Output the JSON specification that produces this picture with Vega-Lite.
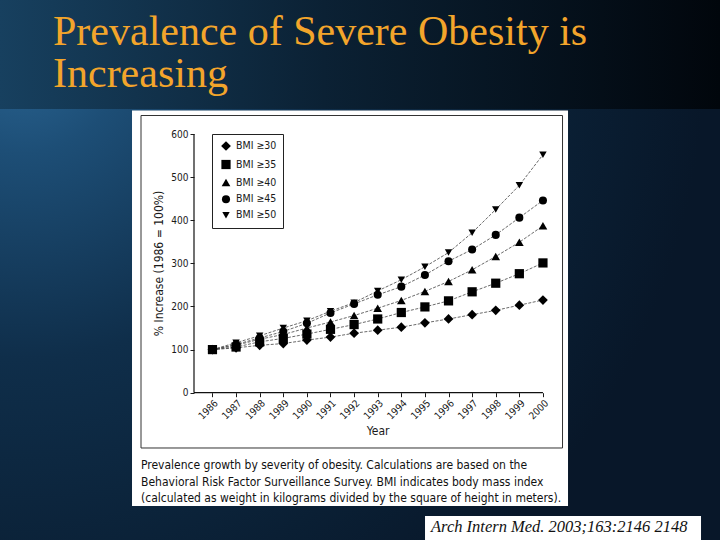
{
  "$schema": "https://vega.github.io/schema/vega-lite/v6.json",
  "width": 720,
  "height": 540,
  "padding": 0,
  "autosize": "none",
  "background": "#0a1c30",
  "title": {
    "text": ["Prevalence of Severe Obesity is", "Increasing"],
    "anchor": "start",
    "frame": "group",
    "orient": "top",
    "offset": 0,
    "dx": 53,
    "dy": 129,
    "baseline": "alphabetic",
    "font": "Liberation Serif",
    "fontSize": 42,
    "fontWeight": "normal",
    "lineHeight": 42,
    "color": "#F3A52B"
  },
  "config": {
    "view": {"stroke": null},
    "axis": {
      "grid": false,
      "domain": false,
      "labelFont": "DejaVu Sans Condensed, Liberation Sans",
      "titleFont": "DejaVu Sans Condensed, Liberation Sans",
      "labelColor": "#1a1a1a",
      "titleColor": "#1a1a1a",
      "tickColor": "#1a1a1a",
      "labelFontSize": 10,
      "titleFontSize": 12,
      "titleFontWeight": "normal",
      "tickSize": 4
    },
    "legend": {
      "labelFont": "DejaVu Sans Condensed, Liberation Sans",
      "labelFontSize": 10.5,
      "labelColor": "#1a1a1a"
    }
  },
  "resolve": {"axis": {"x": "independent", "y": "independent"}},
  "layer": [
    {
      "data": {"values": [{}]},
      "mark": {"type": "rect", "color": {"gradient": "linear", "x1": 0, "y1": 0, "x2": 1, "y2": 0, "stops": [{"offset": 0, "color": "#17405f"}, {"offset": 0.45, "color": "#0b2134"}, {"offset": 1, "color": "#01060c"}]}},
      "encoding": {
        "y": {"datum": 910.8, "type": "quantitative", "scale": {"domain": [-341.6, 910.8], "nice": false, "zero": false}, "axis": null},
        "y2": {"datum": 658.0}
      }
    },
    {
      "data": {"values": [{}]},
      "mark": {"type": "rect", "color": {"gradient": "radial", "x1": 0.03, "y1": 0.12, "r1": 0, "x2": 0.03, "y2": 0.12, "r2": 0.95, "stops": [{"offset": 0, "color": "#2a6593"}, {"offset": 0.15, "color": "#1d4e76"}, {"offset": 0.45, "color": "#0f2e4a"}, {"offset": 0.8, "color": "#0a1f34"}, {"offset": 1, "color": "#081729"}]}},
      "encoding": {
        "y": {"datum": 658.0, "type": "quantitative", "scale": {"domain": [-341.6, 910.8], "nice": false, "zero": false}, "axis": null},
        "y2": {"datum": -341.6}
      }
    },
    {
      "data": {"values": [{}]},
      "mark": {"type": "rect", "color": "#ffffff"},
      "encoding": {
        "x": {"datum": 1982.592, "type": "quantitative", "scale": {"domain": [1977, 2007.5], "nice": false, "zero": false}, "axis": null},
        "x2": {"datum": 2001.062},
        "y": {"datum": 654.5, "type": "quantitative", "scale": {"domain": [-341.6, 910.8], "nice": false, "zero": false}, "axis": null},
        "y2": {"datum": -262.8}
      }
    },
    {
      "data": {"values": [{}]},
      "mark": {"type": "rect", "filled": false, "color": "#333333", "strokeWidth": 1},
      "encoding": {
        "x": {"datum": 1982.973, "type": "quantitative", "scale": {"domain": [1977, 2007.5], "nice": false, "zero": false}, "axis": null},
        "x2": {"datum": 2000.829},
        "y": {"datum": 642.9, "type": "quantitative", "scale": {"domain": [-341.6, 910.8], "nice": false, "zero": false}, "axis": null},
        "y2": {"datum": -128.2}
      }
    },
    {
      "data": {"values": [{}]},
      "mark": {"type": "rule", "color": "#111111", "strokeWidth": 1.2},
      "encoding": {
        "x": {"datum": 1985.218, "type": "quantitative", "scale": {"domain": [1977, 2007.5], "nice": false, "zero": false}, "axis": null},
        "x2": {"datum": 2000},
        "y": {"datum": 0, "type": "quantitative", "scale": {"domain": [-341.6, 910.8], "nice": false, "zero": false}, "axis": null}
      }
    },
    {
      "data": {"values": [{}]},
      "mark": {"type": "rule", "color": "#111111", "strokeWidth": 1.2},
      "encoding": {
        "x": {"datum": 1985.218, "type": "quantitative", "scale": {"domain": [1977, 2007.5], "nice": false, "zero": false}, "axis": null},
        "y": {"datum": 0, "type": "quantitative", "scale": {"domain": [-341.6, 910.8], "nice": false, "zero": false}, "axis": null},
        "y2": {"datum": 600}
      }
    },
    {
      "data": {"name": "obesity"},
      "mark": {"type": "line", "color": "#444444", "strokeWidth": 0.8, "strokeDash": [3, 1.5]},
      "encoding": {
        "x": {"field": "year", "type": "quantitative", "scale": {"domain": [1977, 2007.5], "nice": false, "zero": false},
          "axis": {"zindex": 5, "values": [1986, 1987, 1988, 1989, 1990, 1991, 1992, 1993, 1994, 1995, 1996, 1997, 1998, 1999, 2000], "format": "d", "offset": -147.3, "labelAngle": -45, "labelPadding": 1, "title": "Year", "titleX": 377.7, "titleY": 37.3, "titleBaseline": "middle", "titleAlign": "center"}},
        "y": {"field": "value", "type": "quantitative", "scale": {"domain": [-341.6, 910.8], "nice": false, "zero": false},
          "axis": {"zindex": 5, "values": [0, 100, 200, 300, 400, 500, 600], "offset": -194, "labelPadding": 2, "title": "% Increase (1986 = 100%)", "titleX": -35.3, "titleY": 263, "titleAngle": -90, "titleBaseline": "middle", "titleAlign": "center"}},
        "detail": {"field": "series", "type": "nominal"}
      }
    },
    {
      "data": {"name": "obesity"},
      "mark": {"type": "point", "filled": true, "color": "#000000", "opacity": 1},
      "encoding": {
        "x": {"field": "year", "type": "quantitative", "scale": {"domain": [1977, 2007.5], "nice": false, "zero": false}, "axis": null},
        "y": {"field": "value", "type": "quantitative", "scale": {"domain": [-341.6, 910.8], "nice": false, "zero": false}, "axis": null},
        "shape": {"field": "series", "type": "nominal",
          "scale": {"domain": ["BMI ≥30", "BMI ≥35", "BMI ≥40", "BMI ≥45", "BMI ≥50"], "range": ["diamond", "square", "triangle-up", "circle", "triangle-down"]},
          "legend": {"title": null, "orient": "none", "legendX": 212, "legendY": 134, "strokeColor": "#222222", "fillColor": "#ffffff", "padding": 6, "rowPadding": 2, "symbolOffset": 2, "labelOffset": 4}},
        "size": {"field": "series", "type": "nominal",
          "scale": {"domain": ["BMI ≥30", "BMI ≥35", "BMI ≥40", "BMI ≥45", "BMI ≥50"], "range": [95, 55, 100, 65, 100]},
          "legend": {"title": null, "orient": "none", "legendX": 212, "legendY": 134, "strokeColor": "#222222", "fillColor": "#ffffff", "padding": 6, "rowPadding": 2, "symbolOffset": 2, "labelOffset": 4}}
      }
    },
    {
      "data": {"values": [{}]},
      "mark": {"type": "text", "text": ["Prevalence growth by severity of obesity. Calculations are based on the", "Behavioral Risk Factor Surveillance Survey. BMI indicates body mass index", "(calculated as weight in kilograms divided by the square of height in meters)."], "align": "left", "baseline": "alphabetic", "lineHeight": 16.3, "font": "DejaVu Sans Condensed, Liberation Sans", "fontSize": 12, "color": "#111111"},
      "encoding": {
        "x": {"datum": 1982.973, "type": "quantitative", "scale": {"domain": [1977, 2007.5], "nice": false, "zero": false}, "axis": null},
        "y": {"datum": -177.6, "type": "quantitative", "scale": {"domain": [-341.6, 910.8], "nice": false, "zero": false}, "axis": null}
      }
    },
    {
      "data": {"values": [{}]},
      "mark": {"type": "rect", "color": "#ffffff"},
      "encoding": {
        "x": {"datum": 1995.004, "type": "quantitative", "scale": {"domain": [1977, 2007.5], "nice": false, "zero": false}, "axis": null},
        "x2": {"datum": 2006.696},
        "y": {"datum": -286.0, "type": "quantitative", "scale": {"domain": [-341.6, 910.8], "nice": false, "zero": false}, "axis": null},
        "y2": {"datum": -341.6}
      }
    },
    {
      "data": {"values": [{}]},
      "mark": {"type": "text", "text": "Arch Intern Med. 2003;163:2146 2148", "align": "left", "baseline": "alphabetic", "font": "Liberation Serif", "fontStyle": "italic", "fontSize": 16.5, "color": "#111111"},
      "encoding": {
        "x": {"datum": 1995.258, "type": "quantitative", "scale": {"domain": [1977, 2007.5], "nice": false, "zero": false}, "axis": null},
        "y": {"datum": -323.1, "type": "quantitative", "scale": {"domain": [-341.6, 910.8], "nice": false, "zero": false}, "axis": null}
      }
    }
  ],
  "datasets": {
    "obesity": [
      {"year": 1986, "series": "BMI ≥30", "value": 100}, {"year": 1987, "series": "BMI ≥30", "value": 104}, {"year": 1988, "series": "BMI ≥30", "value": 110}, {"year": 1989, "series": "BMI ≥30", "value": 114}, {"year": 1990, "series": "BMI ≥30", "value": 122}, {"year": 1991, "series": "BMI ≥30", "value": 129}, {"year": 1992, "series": "BMI ≥30", "value": 138}, {"year": 1993, "series": "BMI ≥30", "value": 145}, {"year": 1994, "series": "BMI ≥30", "value": 152}, {"year": 1995, "series": "BMI ≥30", "value": 162}, {"year": 1996, "series": "BMI ≥30", "value": 171}, {"year": 1997, "series": "BMI ≥30", "value": 181}, {"year": 1998, "series": "BMI ≥30", "value": 191}, {"year": 1999, "series": "BMI ≥30", "value": 203}, {"year": 2000, "series": "BMI ≥30", "value": 215},
      {"year": 1986, "series": "BMI ≥35", "value": 100}, {"year": 1987, "series": "BMI ≥35", "value": 106}, {"year": 1988, "series": "BMI ≥35", "value": 118}, {"year": 1989, "series": "BMI ≥35", "value": 126}, {"year": 1990, "series": "BMI ≥35", "value": 136}, {"year": 1991, "series": "BMI ≥35", "value": 147}, {"year": 1992, "series": "BMI ≥35", "value": 158}, {"year": 1993, "series": "BMI ≥35", "value": 171}, {"year": 1994, "series": "BMI ≥35", "value": 186}, {"year": 1995, "series": "BMI ≥35", "value": 199}, {"year": 1996, "series": "BMI ≥35", "value": 213}, {"year": 1997, "series": "BMI ≥35", "value": 234}, {"year": 1998, "series": "BMI ≥35", "value": 254}, {"year": 1999, "series": "BMI ≥35", "value": 276}, {"year": 2000, "series": "BMI ≥35", "value": 301},
      {"year": 1986, "series": "BMI ≥40", "value": 100}, {"year": 1987, "series": "BMI ≥40", "value": 110}, {"year": 1988, "series": "BMI ≥40", "value": 124}, {"year": 1989, "series": "BMI ≥40", "value": 135}, {"year": 1990, "series": "BMI ≥40", "value": 150}, {"year": 1991, "series": "BMI ≥40", "value": 164}, {"year": 1992, "series": "BMI ≥40", "value": 179}, {"year": 1993, "series": "BMI ≥40", "value": 196}, {"year": 1994, "series": "BMI ≥40", "value": 214}, {"year": 1995, "series": "BMI ≥40", "value": 235}, {"year": 1996, "series": "BMI ≥40", "value": 258}, {"year": 1997, "series": "BMI ≥40", "value": 285}, {"year": 1998, "series": "BMI ≥40", "value": 316}, {"year": 1999, "series": "BMI ≥40", "value": 349}, {"year": 2000, "series": "BMI ≥40", "value": 387},
      {"year": 1986, "series": "BMI ≥45", "value": 100}, {"year": 1987, "series": "BMI ≥45", "value": 112}, {"year": 1988, "series": "BMI ≥45", "value": 127}, {"year": 1989, "series": "BMI ≥45", "value": 142}, {"year": 1990, "series": "BMI ≥45", "value": 161}, {"year": 1991, "series": "BMI ≥45", "value": 185}, {"year": 1992, "series": "BMI ≥45", "value": 206}, {"year": 1993, "series": "BMI ≥45", "value": 227}, {"year": 1994, "series": "BMI ≥45", "value": 246}, {"year": 1995, "series": "BMI ≥45", "value": 273}, {"year": 1996, "series": "BMI ≥45", "value": 305}, {"year": 1997, "series": "BMI ≥45", "value": 332}, {"year": 1998, "series": "BMI ≥45", "value": 366}, {"year": 1999, "series": "BMI ≥45", "value": 406}, {"year": 2000, "series": "BMI ≥45", "value": 446},
      {"year": 1986, "series": "BMI ≥50", "value": 100}, {"year": 1987, "series": "BMI ≥50", "value": 116}, {"year": 1988, "series": "BMI ≥50", "value": 132}, {"year": 1989, "series": "BMI ≥50", "value": 150}, {"year": 1990, "series": "BMI ≥50", "value": 167}, {"year": 1991, "series": "BMI ≥50", "value": 189}, {"year": 1992, "series": "BMI ≥50", "value": 209}, {"year": 1993, "series": "BMI ≥50", "value": 236}, {"year": 1994, "series": "BMI ≥50", "value": 262}, {"year": 1995, "series": "BMI ≥50", "value": 292}, {"year": 1996, "series": "BMI ≥50", "value": 325}, {"year": 1997, "series": "BMI ≥50", "value": 371}, {"year": 1998, "series": "BMI ≥50", "value": 425}, {"year": 1999, "series": "BMI ≥50", "value": 481}, {"year": 2000, "series": "BMI ≥50", "value": 552}
    ]
  }
}
